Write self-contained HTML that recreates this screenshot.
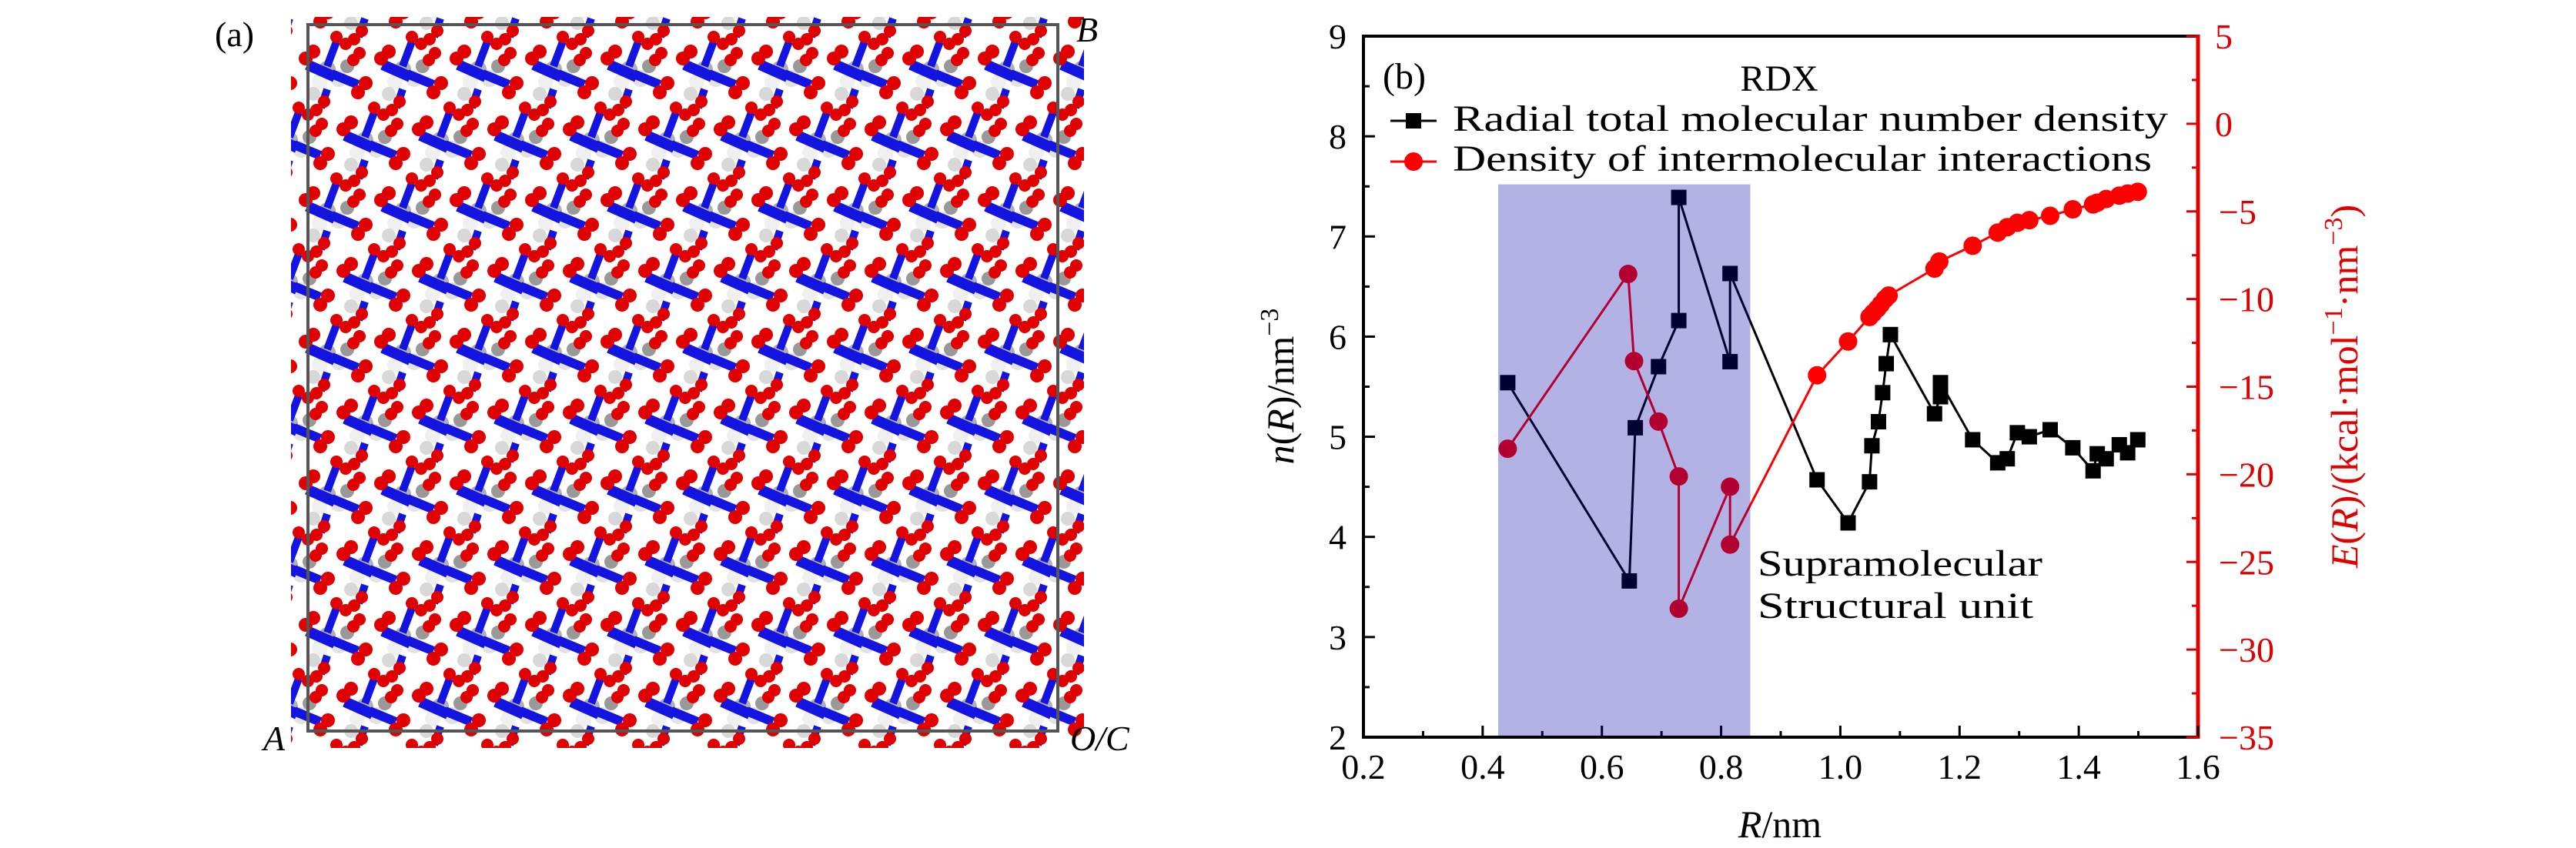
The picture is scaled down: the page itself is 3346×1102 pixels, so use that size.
<!DOCTYPE html>
<html><head><meta charset="utf-8"><style>
html,body{margin:0;padding:0;background:#fff}
svg{display:block}
text{font-family:"Liberation Serif",serif}
</style></head><body>
<svg id="fig" width="3346" height="1102" viewBox="0 0 3346 1102" xmlns="http://www.w3.org/2000/svg">
<defs>
<clipPath id="clipA"><rect x="378" y="22" width="1030" height="950"/></clipPath>
<pattern id="mol" x="395" y="40" width="98" height="184" patternUnits="userSpaceOnUse">
 <g id="m1">
  <circle cx="30" cy="50" r="11" fill="#b0b0b0"/><circle cx="45" cy="62" r="11" fill="#e2e2e2"/>
  <circle cx="20" cy="66" r="10" fill="#f0f0f0"/><circle cx="56" cy="46" r="9" fill="#999"/>
  <circle cx="12" cy="82" r="9" fill="#d8d8d8"/>
  <line x1="4" y1="44" x2="40" y2="60" stroke="#1414e0" stroke-width="14"/>
  <line x1="36" y1="56" x2="70" y2="70" stroke="#1414e0" stroke-width="12"/>
  <line x1="42" y1="14" x2="30" y2="46" stroke="#1414e0" stroke-width="10"/>
  <line x1="30" y1="76" x2="22" y2="100" stroke="#1414e0" stroke-width="10"/>
  <circle cx="2" cy="36" r="9" fill="#e00000"/><circle cx="12" cy="27" r="9" fill="#e00000"/>
  <circle cx="70" cy="80" r="9" fill="#e00000"/><circle cx="80" cy="68" r="9" fill="#e00000"/>
  <circle cx="42" cy="8" r="8" fill="#e00000"/><circle cx="54" cy="17" r="8" fill="#e00000"/>
  <circle cx="26" cy="92" r="8" fill="#e00000"/><circle cx="16" cy="103" r="8" fill="#e00000"/>
  <circle cx="64" cy="38" r="8" fill="#e00000"/><circle cx="72" cy="29" r="8" fill="#e00000"/>
 </g>
 <use href="#m1" x="49" y="92"/>
 <use href="#m1" x="-49" y="92"/>
 <use href="#m1" x="0" y="184"/>
 <use href="#m1" x="49" y="-92"/>
 <use href="#m1" x="-49" y="-92"/>
 <use href="#m1" x="98" y="0"/>
 <use href="#m1" x="-98" y="0"/>
</pattern>
</defs>

<!-- Panel (a) -->
<g>
 <rect x="378" y="22" width="1030" height="950" fill="url(#mol)"/>
 <rect x="400" y="32" width="974" height="918" fill="none" stroke="#555" stroke-width="4"/>
 <text x="279" y="60" font-size="46">(a)</text>
 <text x="1398" y="54" font-size="46" font-style="italic">B</text>
 <text x="342" y="975" font-size="46" font-style="italic">A</text>
 <text x="1390" y="975" font-size="46" font-style="italic">O/C</text>
</g>

<g id="chart"></g>
</svg>
<script>
const rVals = [0.442,0.646,0.656,0.695,0.729,0.729,0.815,0.815,0.961,1.013,1.049,1.053,1.064,1.071,1.077,1.084,1.158,1.168,1.168,1.222,1.264,1.280,1.297,1.317,1.352,1.390,1.424,1.431,1.446,1.468,1.482,1.499];
const nVals = [5.54,3.56,5.09,5.70,6.16,7.39,5.75,6.63,4.57,4.14,4.55,4.91,5.15,5.44,5.73,6.02,5.23,5.40,5.54,4.97,4.74,4.78,5.04,5.00,5.07,4.89,4.66,4.83,4.78,4.92,4.84,4.97];
const rE = [0.442,0.644,0.654,0.695,0.729,0.729,0.815,0.815,0.961,1.013,1.049,1.055,1.062,1.068,1.075,1.081,1.158,1.166,1.222,1.264,1.280,1.297,1.317,1.352,1.390,1.424,1.431,1.446,1.468,1.482,1.499];
const eVals = [-18.54,-8.57,-13.54,-16.99,-20.12,-27.67,-20.71,-24.01,-14.35,-12.42,-11.02,-10.8,-10.55,-10.3,-10.0,-9.8,-8.26,-7.86,-6.96,-6.21,-5.90,-5.65,-5.50,-5.25,-4.88,-4.60,-4.50,-4.29,-4.10,-3.98,-3.88];
const xTicks = [0.2,0.4,0.6,0.8,1.0,1.2,1.4,1.6];
const xTickLabels = ["0.2","0.4","0.6","0.8","1.0","1.2","1.4","1.6"];
const yLTicks = [2,3,4,5,6,7,8,9];
const yRTicks = [5,0,-5,-10,-15,-20,-25,-30,-35];
const yRTickLabels = ["5","0","−5","−10","−15","−20","−25","−30","−35"];
const shadeRange = [0.426,0.849];
const shadeTop = 7.52;

const L=1771,R=2855,T=47,B=958;
const xS=v=>L+(v-0.2)/1.4*(R-L);
const yL=v=>B-(v-2)/7*(B-T);
const yR=v=>B-(v+35)/40*(B-T);
const NS="http://www.w3.org/2000/svg";
const g=document.getElementById('chart');
function mk(tag,attrs,parent){const e=document.createElementNS(NS,tag);for(const k in attrs)e.setAttribute(k,attrs[k]);(parent||g).appendChild(e);return e;}

let e;
e=mk('line',{x1:L,y1:T,x2:R,y2:T,stroke:'#000','stroke-width':4});


e=mk('line',{x1:L,y1:T-2,x2:L,y2:B+2,stroke:'#000','stroke-width':4});


e=mk('line',{x1:L,y1:B,x2:R,y2:B,stroke:'#000','stroke-width':4});


e=mk('line',{x1:R,y1:T-2,x2:R,y2:B+2,stroke:'#e00000','stroke-width':5});



xTicks.forEach((v,i)=>{
  const x=xS(v);
  const t=mk('line',{x1:x,y1:B,x2:x,y2:B-15,stroke:'#000','stroke-width':3});
  
  
  if(i<xTicks.length-1){const m=mk('line',{x1:xS(v+0.1),y1:B,x2:xS(v+0.1),y2:B-8,stroke:'#000','stroke-width':3});
  
  }
  const lb=mk('text',{x:x,y:B+54,'font-size':46,'text-anchor':'middle'});lb.textContent=xTickLabels[i];
  
  
});
yLTicks.forEach((v,i)=>{
  const y=yL(v);
  const t=mk('line',{x1:L,y1:y,x2:L+15,y2:y,stroke:'#000','stroke-width':3});
  
  
  if(i<yLTicks.length-1){const m=mk('line',{x1:L,y1:yL(v+0.5),x2:L+8,y2:yL(v+0.5),stroke:'#000','stroke-width':3});
  
  }
  const lb=mk('text',{x:L-22,y:y+16,'font-size':46,'text-anchor':'end'});lb.textContent=String(v);
  
  
});
yRTicks.forEach((v,i)=>{
  const y=yR(v);
  const t=mk('line',{x1:R,y1:y,x2:R-15,y2:y,stroke:'#e00000','stroke-width':3});
  
  
  if(i<yRTicks.length-1){const m=mk('line',{x1:R,y1:yR(v-2.5),x2:R-8,y2:yR(v-2.5),stroke:'#e00000','stroke-width':3});
  
  }
  const lb=mk('text',{x:v<0?2882:2877,y:y+16,'font-size':46,fill:'#e00000'});lb.textContent=yRTickLabels[i];
  
  
});

function poly(xs,ys,fy,color,name){
  const p=mk('polyline',{points:xs.map((x,i)=>xS(x)+','+fy(ys[i])).join(' '),fill:'none',stroke:color,'stroke-width':3});
  
  
}
poly(rVals,nVals,yL,'#000','number-density-line');
poly(rE,eVals,yR,'#ff0000','interaction-density-line');
rVals.forEach((x,i)=>{
  const s=mk('rect',{x:xS(x)-10,y:yL(nVals[i])-10,width:20,height:20,fill:'#000'});
  
  
});
rE.forEach((x,i)=>{
  const c=mk('circle',{cx:xS(x),cy:yR(eVals[i]),r:12,fill:'#ff0000'});
  
  
});
e=mk('rect',{x:xS(shadeRange[0]),y:yL(shadeTop),width:xS(shadeRange[1])-xS(shadeRange[0]),height:B-2-yL(shadeTop),fill:'rgb(0,0,165)','fill-opacity':0.3});



function txt(x,y,s,attrs,name){const t=mk('text',Object.assign({x:x,y:y,'font-size':48},attrs));t.textContent=s;
  
  return t;}
txt(1796,115,'(b)',{},'panel-b-label');
txt(2311,118,'RDX',{'text-anchor':'middle'},'legend-title');
txt(1887,170,'Radial total molecular number density',{textLength:929,lengthAdjust:'spacingAndGlyphs'},'legend-label-number-density');
txt(1887,222,'Density of intermolecular interactions',{textLength:908,lengthAdjust:'spacingAndGlyphs'},'legend-label-interaction-density');
e=mk('line',{x1:1806,y1:157,x2:1866,y2:157,stroke:'#000','stroke-width':3});


e=mk('rect',{x:1826,y:147,width:20,height:20,fill:'#000'});


e=mk('line',{x1:1806,y1:210,x2:1866,y2:210,stroke:'#ff0000','stroke-width':3});


e=mk('circle',{cx:1836,cy:210,r:12,fill:'#ff0000'});


txt(2283,748,'Supramolecular',{textLength:370,lengthAdjust:'spacingAndGlyphs'},'annotation-supramolecular');
txt(2283,803,'Structural unit',{textLength:358,lengthAdjust:'spacingAndGlyphs'},'annotation-structural-unit');

const xt=mk('text',{x:2312,y:1088,'font-size':50,'text-anchor':'middle'});


xt.innerHTML='<tspan font-style="italic">R</tspan>/nm';
const ylt=mk('text',{x:0,y:0,'font-size':50,'text-anchor':'middle',transform:'translate(1680,502) rotate(-90)'});


ylt.innerHTML='<tspan font-style="italic">n</tspan>(<tspan font-style="italic">R</tspan>)/nm<tspan dy="-20" font-size="34">−3</tspan>';
const yrt=mk('text',{x:0,y:0,'font-size':50,'text-anchor':'middle',fill:'#e00000',transform:'translate(3062,502) rotate(-90)'});


yrt.innerHTML='<tspan font-style="italic">E</tspan>(<tspan font-style="italic">R</tspan>)/(kcal·mol<tspan dy="-20" font-size="34">−1</tspan><tspan dy="20">·nm</tspan><tspan dy="-20" font-size="34">−3</tspan><tspan dy="20">)</tspan>';
</script>
</body></html>
